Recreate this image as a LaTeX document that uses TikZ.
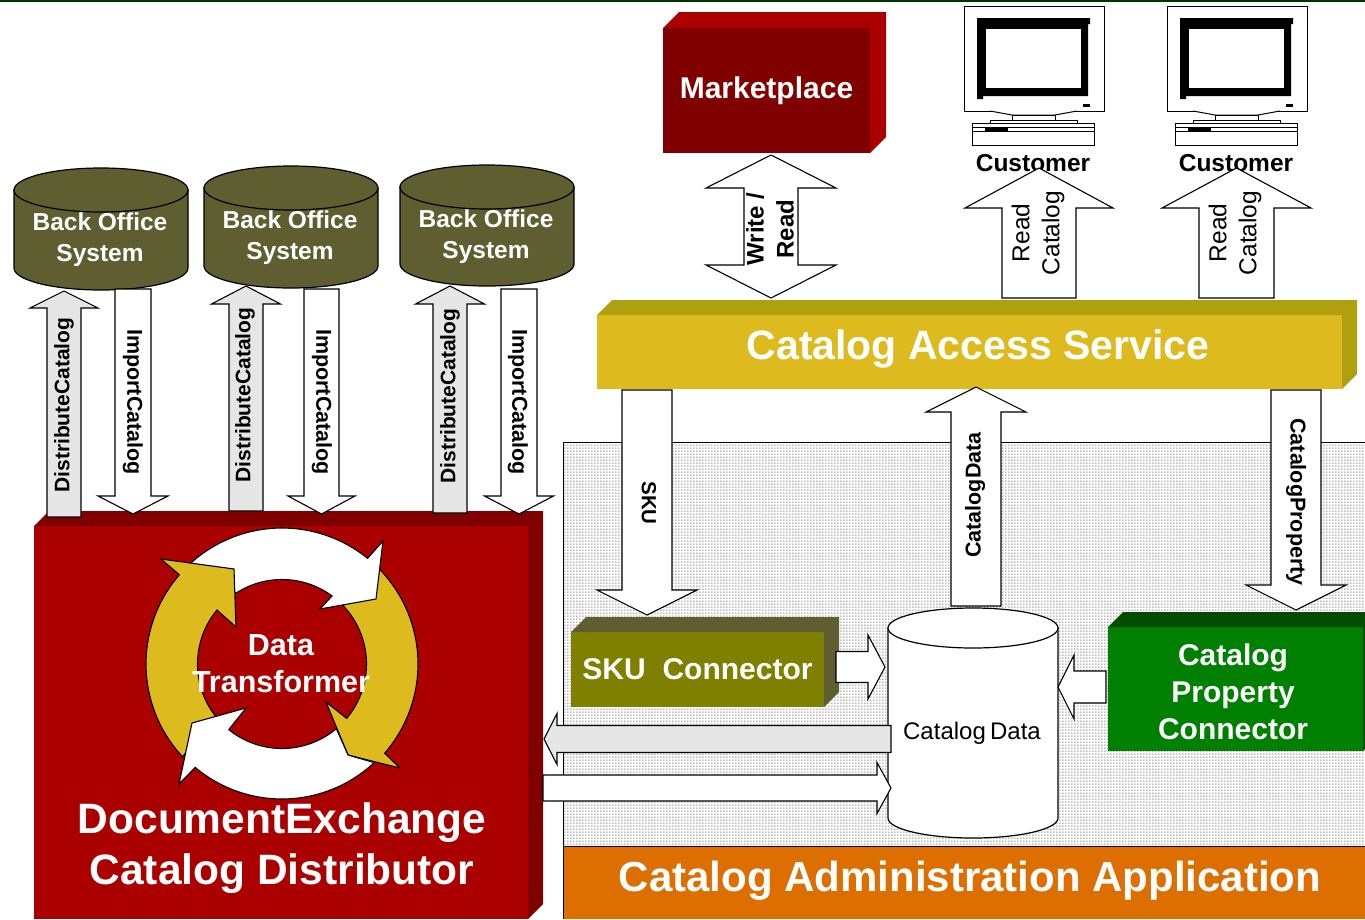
\documentclass[tikz,border=0pt]{standalone}
\usepackage{fontspec}
\setmainfont{Liberation Sans}
\usetikzlibrary{calc,patterns}
\definecolor{redF}{HTML}{AA0000}
\definecolor{redD}{HTML}{800000}
\definecolor{gold}{HTML}{DDBB1F}
\definecolor{goldD}{HTML}{B0A010}
\definecolor{oliveF}{HTML}{808000}
\definecolor{oliveD}{HTML}{5E5E30}
\definecolor{greenF}{HTML}{008000}
\definecolor{greenD}{HTML}{004D00}
\definecolor{orangeF}{HTML}{DD6E00}
\definecolor{lgray}{HTML}{E6E6E6}
\definecolor{topbar}{HTML}{003300}
\pgfdeclarepatternformonly{finedots}{\pgfqpoint{0pt}{0pt}}{\pgfqpoint{3pt}{3pt}}{\pgfqpoint{3pt}{3pt}}{%
  \pgfpathrectangle{\pgfqpoint{0.5pt}{0.5pt}}{\pgfqpoint{1.2pt}{1.2pt}}\pgfusepath{fill}}
\newcommand\fsz[2]{\fontsize{#1}{#2}\selectfont}
\tikzset{
  facebox/.style={inner sep=0pt,outer sep=0pt,text=white,font=\bfseries\fsz{30}{37},align=center},
  wlabel/.style={text=white,inner sep=0pt,align=center},
  klabel/.style={text=black,inner sep=0pt,align=center},
  barrow/.style n args={3}{draw=black,line width=1.1pt,line join=miter,to path={
    -- ($(\tikztostart)!#1!90:(\tikztotarget)$)
    -- ($($(\tikztotarget)!#3!(\tikztostart)$)!#1!-90:(\tikztostart)$)
    -- ($($(\tikztotarget)!#3!(\tikztostart)$)!#2!-90:(\tikztostart)$)
    -- (\tikztotarget)
    -- ($($(\tikztotarget)!#3!(\tikztostart)$)!#2!90:(\tikztostart)$)
    -- ($($(\tikztotarget)!#3!(\tikztostart)$)!#1!90:(\tikztostart)$)
    -- ($(\tikztostart)!#1!-90:(\tikztotarget)$)
    -- (\tikztostart)}},
  dblarrow/.style n args={4}{draw=black,line width=1.1pt,line join=miter,to path={
    -- ($($(\tikztostart)!#3!(\tikztotarget)$)!#2!90:(\tikztotarget)$)
    -- ($($(\tikztostart)!#3!(\tikztotarget)$)!#1!90:(\tikztotarget)$)
    -- ($($(\tikztotarget)!#4!(\tikztostart)$)!#1!-90:(\tikztostart)$)
    -- ($($(\tikztotarget)!#4!(\tikztostart)$)!#2!-90:(\tikztostart)$)
    -- (\tikztotarget)
    -- ($($(\tikztotarget)!#4!(\tikztostart)$)!#2!90:(\tikztostart)$)
    -- ($($(\tikztotarget)!#4!(\tikztostart)$)!#1!90:(\tikztostart)$)
    -- ($($(\tikztostart)!#3!(\tikztotarget)$)!#1!-90:(\tikztotarget)$)
    -- ($($(\tikztostart)!#3!(\tikztotarget)$)!#2!-90:(\tikztotarget)$)
    -- (\tikztostart)}},
  ringpart/.style={draw=black,line width=1.1pt,line join=miter},
  cylline/.style={draw=black,line width=1.2pt},
  pcline/.style={draw=black,line width=1pt,fill=white}
}
% 3D faces: top and right of a front-face node
\newcommand\threed[4]{%
  \fill[#3] (#1.north west) -- ++(#2,-#2) -- ++({\pgfkeysvalueof{/tikz/dummyw}},0) -- cycle;}
\newcommand\facets[3]{%
  \fill[#3] (#1.north west) -- ($(#1.north west)+(#2,-#2)$) -- ($(#1.north east)+(#2,-#2)$) -- ($(#1.south east)+(#2,-#2)$) -- (#1.south east) -- (#1.north east) -- cycle;}
% cylinder: name, x1, x2, top centre y, bottom centre y, ry, fill
\newcommand\cyl[7]{%
  \path[cylline,fill=#7] (#2,#4) -- (#2,#5)
    .. controls (#2,{#5+0.552*#6}) and ({(#2+#3)/2-0.276*(#3-#2)},{#5+#6}) .. ({(#2+#3)/2},{#5+#6})
    .. controls ({(#2+#3)/2+0.276*(#3-#2)},{#5+#6}) and (#3,{#5+0.552*#6}) .. (#3,#5)
    -- (#3,#4) -- cycle;
  \path[cylline,fill=#7] ({(#2+#3)/2},#4) ellipse [x radius={(#3-#2)/2}, y radius=#6];}
% computer drawing at x shifts
\newcommand\pc[2]{%
  \begin{scope}[xshift=#1pt]
    \path[pcline] (964,6) rectangle (1104,111);
    \fill[black] (977,18) -- (1090,18) -- (1090,24) -- (1088,24) -- (1088,96) -- (983,96) -- (983,99) -- (977,99) -- cycle;
    \fill[white] (986,29) rectangle (1081,88);
    \fill[black] (1083,104) rectangle (1090,106.5);
    \path[pcline] (990,111) -- (1012,115) -- (1055,115) -- (1077,111);
    \path[pcline] (1012,115) rectangle (1055,120);
    \path[pcline] (990,120) rectangle (1077,123);
    \path[pcline] (972,123) rectangle (1094,145);
    \draw[black,line width=1pt] (972,127) -- (1094,127) (972,131) -- (1094,131);
    \fill[black] (985,127.5) rectangle (1008,131.5);
    \node[klabel,font=\bfseries\fsz{24.5}{28}] (#2) at (1033,163) {Customer};
  \end{scope}}
\begin{document}
\begin{tikzpicture}[x=1pt,y=-1pt]
\useasboundingbox (0,0) rectangle (1365,919);
\fill[topbar] (0,0) rectangle (1365,2);

% dotted field and admin bar
\fill[white] (563,442) rectangle (1365,846);
\fill[pattern=finedots,pattern color=black!62] (563,442) rectangle (1365,846);
\draw[black,line width=.8pt] (563,846) -- (563,442) -- (1365,442);
\node[facebox,fill=orangeF,minimum width=802pt,minimum height=73pt,anchor=north west] (admin) at (563,846) {};
\draw[black,line width=.8pt] (admin.north west) -- (admin.north east);
\draw[black,line width=.8pt] (admin.north west) -- (admin.south west);
\node[wlabel,font=\bfseries\fsz{42}{46}] (adminT) at (970,881) {Catalog Administration Application};

% Marketplace
\node[facebox,fill=redD,minimum width=207pt,minimum height=125pt,anchor=north west] (mkt) at (663,28) {Marketplace};
\facets{mkt}{16}{redF}

% Catalog Access Service
\node[facebox,fill=gold,minimum width=745pt,minimum height=74pt,anchor=north west] (cas) at (597,315) {};
\facets{cas}{15}{goldD}
\node[wlabel,font=\bfseries\fsz{41}{46}] (casT) at (978,349) {Catalog Access Service};

% DocumentExchange box
\node[facebox,fill=redF,minimum width=494pt,minimum height=393pt,anchor=north west] (dex) at (34,526) {};
\facets{dex}{15}{redD}

% back office cylinders
\cyl{bo1}{14}{188}{190}{268}{22}{oliveD}
\cyl{bo2}{204}{378}{188}{266}{22}{oliveD}
\cyl{bo3}{400}{574}{187}{264}{22}{oliveD}
\node[wlabel,font=\bfseries\fsz{24.5}{31}] (bo1) at (100,240) {Back Office\\System};
\node[wlabel,font=\bfseries\fsz{24.5}{31}] (bo2) at (290,238) {Back Office\\System};
\node[wlabel,font=\bfseries\fsz{24.5}{31}] (bo3) at (486,237) {Back Office\\System};

% computers
\pc{0}{custA}
\pc{203}{custB}

% coordinates of block-arrow ends
\coordinate (dA0) at (64,517);  \coordinate (dA1) at (64,291);
\coordinate (iA0) at (133,289); \coordinate (iA1) at (133,514);
\coordinate (dB0) at (246,511); \coordinate (dB1) at (246,286);
\coordinate (iB0) at (321.5,289); \coordinate (iB1) at (321.5,514);
\coordinate (dC0) at (450,513); \coordinate (dC1) at (450,286);
\coordinate (iC0) at (519,289); \coordinate (iC1) at (519,514);
\coordinate (mk0) at (771,155); \coordinate (mk1) at (771,298);
\coordinate (rA0) at (1039,298); \coordinate (rA1) at (1039,168);
\coordinate (rB0) at (1236.5,298); \coordinate (rB1) at (1236.5,168);
\coordinate (sk0) at (647,390); \coordinate (sk1) at (647,615);
\coordinate (cd0) at (976,606); \coordinate (cd1) at (976,387);
\coordinate (cp0) at (1296,390); \coordinate (cp1) at (1296,610);
\coordinate (sc0) at (836,667); \coordinate (sc1) at (885,667);
\coordinate (pc0) at (1106,687); \coordinate (pc1) at (1058,687);
\coordinate (gl0) at (891,739); \coordinate (gl1) at (544,739);
\coordinate (wr0) at (543,788); \coordinate (wr1) at (891,788);

\draw[barrow={17pt}{34pt}{17pt},fill=lgray] (dA0) to (dA1);
\draw[barrow={18pt}{35pt}{18pt},fill=white] (iA0) to (iA1);
\draw[barrow={17pt}{34.5pt}{18pt},fill=lgray] (dB0) to (dB1);
\draw[barrow={17.5pt}{33.5pt}{18pt},fill=white] (iB0) to (iB1);
\draw[barrow={17pt}{34.5pt}{18pt},fill=lgray] (dC0) to (dC1);
\draw[barrow={18pt}{34.5pt}{18pt},fill=white] (iC0) to (iC1);
\draw[dblarrow={27pt}{65pt}{33pt}{33pt},fill=white] (mk0) to (mk1);
\draw[barrow={37pt}{74pt}{40pt},fill=white] (rA0) to (rA1);
\draw[barrow={37.5pt}{74.5pt}{40pt},fill=white] (rB0) to (rB1);
\draw[barrow={25pt}{50pt}{25pt},fill=white] (sk0) to (sk1);
\draw[barrow={25pt}{50pt}{25pt},fill=white] (cd0) to (cd1);
\draw[barrow={25pt}{50pt}{25pt},fill=white] (cp0) to (cp1);

% labels on vertical arrows
\node[klabel,rotate=90,font=\bfseries\fsz{21}{24}] (ldA) at (64,405) {DistributeCatalog};
\node[klabel,rotate=-90,font=\bfseries\fsz{21.5}{24}] (liA) at (133,402) {ImportCatalog};
\node[klabel,rotate=90,font=\bfseries\fsz{21}{24}] (ldB) at (245,395) {DistributeCatalog};
\node[klabel,rotate=-90,font=\bfseries\fsz{21.5}{24}] (liB) at (322,402) {ImportCatalog};
\node[klabel,rotate=90,font=\bfseries\fsz{21}{24}] (ldC) at (450,396) {DistributeCatalog};
\node[klabel,rotate=-90,font=\bfseries\fsz{21.5}{24}] (liC) at (518,402) {ImportCatalog};
\node[klabel,rotate=90,font=\bfseries\fsz{24}{30}] (lmk) at (770,229) {Write /\\Read};
\node[klabel,rotate=90,font=\fsz{24.5}{30}] (lrA) at (1038,233) {Read\\Catalog};
\node[klabel,rotate=90,font=\fsz{24.5}{30}] (lrB) at (1235,233) {Read\\Catalog};
\node[klabel,rotate=-90,font=\bfseries\fsz{20.5}{24}] (lsk) at (649,503) {SKU};
\node[klabel,rotate=90,font=\bfseries\fsz{21.5}{24}] (lcd) at (975,495) {CatalogData};
\node[klabel,rotate=-90,font=\bfseries\fsz{21.5}{24}] (lcp) at (1296,502) {CatalogProperty};

% SKU and property connectors
\node[facebox,fill=oliveF,minimum width=253pt,minimum height=75pt,anchor=north west] (sku) at (571,632) {SKU\hspace{.28em} Connector};
\facets{sku}{15}{oliveD}
\node[facebox,fill=greenF,minimum width=255pt,minimum height=124pt,anchor=north west] (prop) at (1108,627) {};
\facets{prop}{15}{greenD}
\node[wlabel,font=\bfseries\fsz{30}{37}] (propT) at (1233,692) {Catalog\\Property\\Connector};

% Catalog Data cylinder
\cyl{cat}{888}{1058}{628}{818}{20}{white}
\node[klabel,font=\fsz{24}{28}] (cat) at (972,733) {Catalog\hspace{-.1em} Data};

\draw[barrow={15.5pt}{32pt}{17pt},fill=white] (sc0) to (sc1);
\draw[barrow={16pt}{32pt}{16pt},fill=white] (pc0) to (pc1);
\draw[barrow={13.5pt}{25.5pt}{13pt},fill=lgray] (gl0) to (gl1);
\draw[barrow={13pt}{25.5pt}{14pt},fill=white] (wr0) to (wr1);

% ring of four arrows
\path[ringpart,fill=gold] plot[domain=-44:41,samples=40] ({282+136*cos(\x)},{664+136*sin(\x)})
  -- (400,768) -- (348,755) -- (326,702) -- (345,717)
  -- plot[domain=40:-43.6,samples=40] ({282+84.5*cos(\x)},{664+84.5*sin(\x)}) -- cycle;
\path[ringpart,fill=white] plot[domain=-132:-51,samples=40] ({282+136*cos(\x)},{664+136*sin(\x)})
  -- (383,541) -- (376,599) -- (320,609) -- (332,596)
  -- plot[domain=-54:-123,samples=40] ({282+84.5*cos(\x)},{664+84.5*sin(\x)}) -- cycle;
\path[ringpart,fill=gold] plot[domain=137:221,samples=40] ({282+136*cos(\x)},{664+136*sin(\x)})
  -- (161,559) -- (234,569) -- (236,627) -- (217,610)
  -- plot[domain=220:141,samples=40] ({282+84.5*cos(\x)},{664+84.5*sin(\x)}) -- cycle;
\path[ringpart,fill=white] (179,784) -- (192,723) -- (246,708) -- (230,728)
  -- plot[domain=129:50,samples=40] ({282+84.5*cos(\x)},{664+84.5*sin(\x)})
  -- (348,755) -- (372,762)
  -- plot[domain=47:130,samples=40] ({282+135*cos(\x)},{664+135*sin(\x)}) -- cycle;

\node[wlabel,font=\bfseries\fsz{30.5}{37}] (dt) at (281,663.5) {Data\\Transformer};
\node[wlabel,font=\bfseries\fsz{42.5}{51}] (dexT) at (282,848) {DocumentExchange\\Catalog Distributor};
\end{tikzpicture}
\end{document}
